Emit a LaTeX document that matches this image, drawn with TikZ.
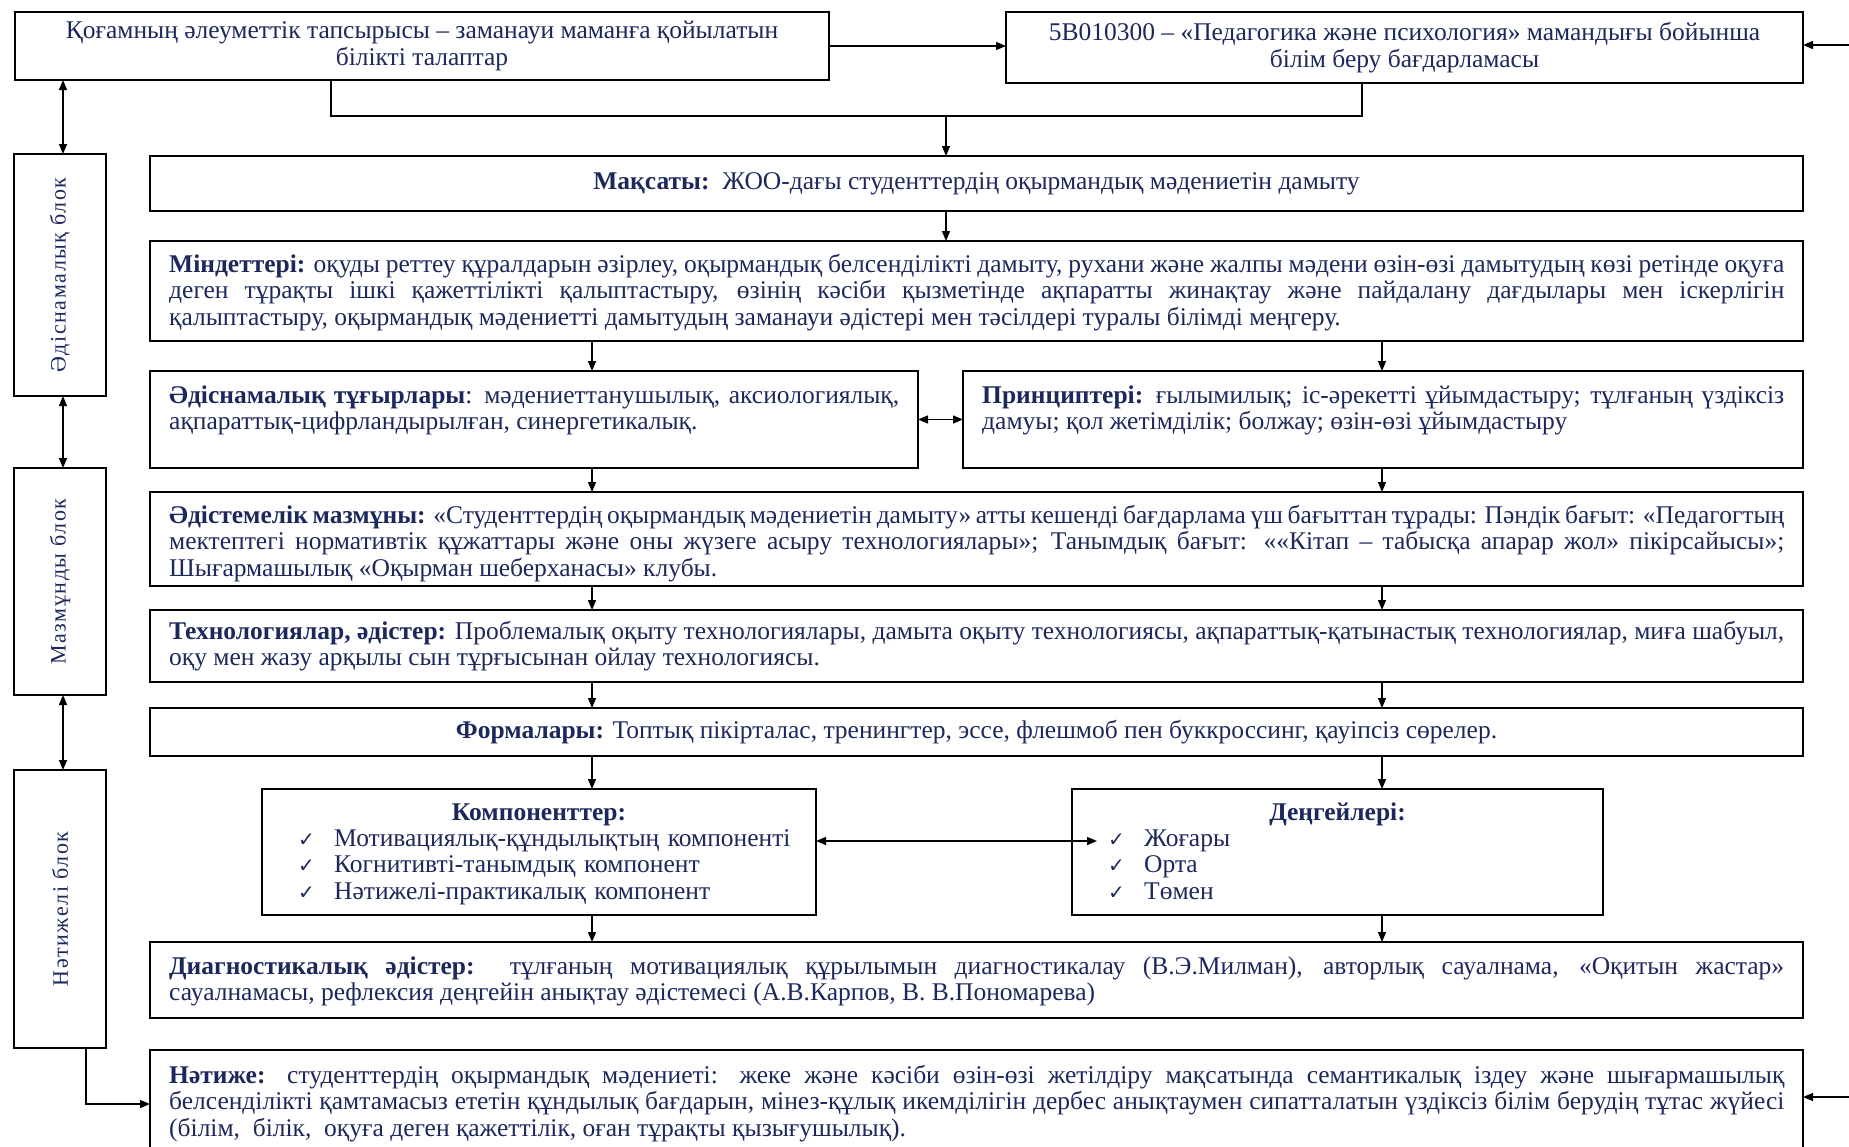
\documentclass[tikz,border=0pt]{standalone}
\usepackage{fontspec}
\usepackage{xcolor}
\setmainfont{Liberation Serif}
\newfontfamily\tickfont{DejaVu Sans}
\newfontfamily\blockfont[LetterSpace=7]{Liberation Serif}
\usetikzlibrary{arrows.meta}
\definecolor{inkblue}{RGB}{28,40,92}
\newcommand\bodyfont{\fontsize{25.5}{26.5}\selectfont}
\newcommand\tick{\makebox[36pt][l]{\tickfont\fontsize{20}{20}\selectfont ✓}}

\begin{document}
\begin{tikzpicture}[x=1pt, y=-1pt,
    box/.style={draw, line width=1.3pt, anchor=north west, inner sep=0pt, outer sep=0pt},
    txt/.style={anchor=base west, inner sep=0pt, text=inkblue, font=\bodyfont, align=justify},
    ctxt/.style={inner sep=0pt, text=inkblue, font=\bodyfont, align=center},
    blocktxt/.style={rotate=90, inner sep=0pt, text=inkblue, font=\blockfont\fontsize{22}{22}\selectfont},
    lnk/.style={line width=1.3pt},
    arr/.style={line width=1.3pt, -{Triangle[length=10pt,width=8pt]}},
    dbl/.style={line width=1.3pt, {Triangle[length=10pt,width=8pt]}-{Triangle[length=10pt,width=8pt]}}]
    \useasboundingbox (0,0) rectangle (1849,1146);

    % Top row
    \node[box, minimum width=814pt, minimum height=68pt] (social) at (15,12) {};
    \node[ctxt] (social-t) at (social.center) {Қоғамның әлеуметтік тапсырысы – заманауи маманға қойылатын\\ білікті талаптар};
    \node[box, minimum width=797pt, minimum height=71pt] (prog) at (1006,12) {};
    \node[ctxt] (prog-t) at (prog.center) {5В010300 – «Педагогика және психология» мамандығы бойынша\\ білім беру бағдарламасы};

    % Left blocks
    \node[box, minimum width=92pt, minimum height=242pt] (blk1) at (14,154) {};
    \node[box, minimum width=92pt, minimum height=227pt] (blk2) at (14,468) {};
    \node[box, minimum width=92pt, minimum height=278pt] (blk3) at (14,770) {};
    \node[blocktxt] (blk1-t) at (blk1.center) {Әдіснамалық блок};
    \node[blocktxt] (blk2-t) at (blk2.center) {Мазмұнды блок};
    \node[blocktxt] (blk3-t) at (blk3.center) {Нәтижелі блок};

    % Main column
    \node[box, minimum width=1653pt, minimum height=55pt] (aim) at (150,156) {};
    \node[ctxt] (aim-t) at (aim.center) {\textbf{Мақсаты:}\ \ ЖОО-дағы студенттердің оқырмандық мәдениетін дамыту};

    \node[box, minimum width=1653pt, minimum height=100pt] (tasks) at (150,241) {};
    \node[txt, text width=1615pt] (tasks-t) at ([shift={(19,31)}]tasks.north west) {\textbf{Міндеттері:} оқуды реттеу құралдарын әзірлеу, оқырмандық белсенділікті дамыту, рухани және жалпы мәдени өзін-өзі дамытудың көзі ретінде оқуға \linebreak деген тұрақты ішкі қажеттілікті қалыптастыру, өзінің кәсіби қызметінде ақпаратты жинақтау және пайдалану дағдылары мен іскерлігін \linebreak қалыптастыру, оқырмандық мәдениетті дамытудың заманауи әдістері мен тәсілдері туралы білімді меңгеру.};

    \node[box, minimum width=768pt, minimum height=97pt] (approach) at (150,371) {};
    \node[txt, text width=730pt] (approach-t) at ([shift={(19,32)}]approach.north west) {\textbf{Әдіснамалық тұғырлары}: мәдениеттанушылық, аксиологиялық, \linebreak ақпараттық-цифрландырылған, синергетикалық.};

    \node[box, minimum width=840pt, minimum height=97pt] (princ) at (963,371) {};
    \node[txt, text width=802pt] (princ-t) at ([shift={(19,32)}]princ.north west) {\textbf{Принциптері:} ғылымилық; іс-әрекетті ұйымдастыру; тұлғаның үздіксіз \linebreak дамуы; қол жетімділік; болжау; өзін-өзі ұйымдастыру};

    \node[box, minimum width=1653pt, minimum height=94pt] (content) at (150,492) {};
    \node[txt, text width=1615pt] (content-t) at ([shift={(19,31)}]content.north west) {\textbf{Әдістемелік мазмұны:} «Студенттердің оқырмандық мәдениетін дамыту» атты кешенді бағдарлама үш бағыттан тұрады: Пәндік бағыт: «Педагогтың \linebreak мектептегі нормативтік құжаттары және оны жүзеге асыру технологиялары»; Танымдық бағыт: ««Кітап – табысқа апарар жол» пікірсайысы»; \linebreak Шығармашылық «Оқырман шеберханасы» клубы.};

    \node[box, minimum width=1653pt, minimum height=72pt] (tech) at (150,610) {};
    \node[txt, text width=1615pt] (tech-t) at ([shift={(19,29)}]tech.north west) {\textbf{Технологиялар, әдістер:} Проблемалық оқыту технологиялары, дамыта оқыту технологиясы, ақпараттық-қатынастық технологиялар, миға шабуыл, \linebreak оқу мен жазу арқылы сын тұрғысынан ойлау технологиясы.};

    \node[box, minimum width=1653pt, minimum height=48pt] (forms) at (150,708) {};
    \node[ctxt] (forms-t) at (forms.center) {\textbf{Формалары:} Топтық пікірталас, тренингтер, эссе, флешмоб пен буккроссинг, қауіпсіз сөрелер.};

    % Components and levels
    \node[box, minimum width=554pt, minimum height=126pt] (comp) at (262,789) {};
    \node[ctxt, anchor=base] (comp-t) at ([shift={(0,31)}]comp.north) {\textbf{Компоненттер:}};
    \node[txt, align=left, text width=500pt] (comp-l) at ([shift={(36,57)}]comp.north west) {\tick Мотивациялық-құндылықтың компоненті\\ \tick Когнитивті-танымдық компонент\\ \tick Нәтижелі-практикалық компонент};

    \node[box, minimum width=531pt, minimum height=126pt] (lvl) at (1072,789) {};
    \node[ctxt, anchor=base] (lvl-t) at ([shift={(0,31)}]lvl.north) {\textbf{Деңгейлері:}};
    \node[txt, align=left, text width=300pt] (lvl-l) at ([shift={(36,57)}]lvl.north west) {\tick Жоғары\\ \tick Орта\\ \tick Төмен};

    \node[box, minimum width=1653pt, minimum height=76pt] (diag) at (150,942) {};
    \node[txt, text width=1615pt] (diag-t) at ([shift={(19,32)}]diag.north west) {\textbf{Диагностикалық әдістер:}\ \ тұлғаның мотивациялық құрылымын диагностикалау (В.Э.Милман), авторлық сауалнама, «Оқитын жастар» \linebreak сауалнамасы, рефлексия деңгейін анықтау әдістемесі (А.В.Карпов, В. В.Пономарева)};

    \node[box, minimum width=1653pt, minimum height=120pt] (result) at (150,1050) {};
    \node[txt, text width=1615pt] (result-t) at ([shift={(19,33)}]result.north west) {\textbf{Нәтиже:} студенттердің оқырмандық мәдениеті: жеке және кәсіби өзін-өзі жетілдіру мақсатында семантикалық іздеу және шығармашылық \linebreak белсенділікті қамтамасыз ететін құндылық бағдарын, мінез-құлық икемділігін дербес анықтаумен сипатталатын үздіксіз білім берудің тұтас жүйесі \linebreak (білім,\ \ білік,\ \ оқуға деген қажеттілік, оған тұрақты қызығушылық).};

    % Helper points
    \coordinate (lcol) at (63,0);
    \coordinate (colL) at (592,0);
    \coordinate (colR) at (1382,0);
    \coordinate (jl) at (331,116);
    \coordinate (jr) at (1362,116);
    \coordinate (join) at (946,116);
    \coordinate (inR1) at (1849,45);
    \coordinate (inR2) at (1849,1097);
    \coordinate (rdrop) at (86,1104);
    \coordinate (lvlin) at (1097,841);

    % Connectors
    \draw[arr] (social) -- (social -| prog.west);
    \draw[arr] (inR1) -- (inR1 -| prog.east);
    \draw[lnk] (social.south -| jl) -- (jl) -- (jr) -- (prog.south -| jr);
    \draw[arr] (join) -- (aim.north -| join);
    \draw[arr] (aim.south -| join) -- (tasks.north -| join);
    \foreach \from/\to/\col in {tasks/approach/colL, tasks/princ/colR,
        approach/content/colL, princ/content/colR, content/tech/colL, content/tech/colR,
        tech/forms/colL, tech/forms/colR, forms/comp/colL, forms/lvl/colR,
        comp/diag/colL, lvl/diag/colR}
      \draw[arr] (\from.south -| \col) -- (\to.north -| \col);
    \draw[dbl] (approach) -- (princ);
    \draw[dbl] (comp.east |- lvlin) -- (lvlin);
    \draw[dbl] (social.south -| lcol) -- (blk1.north -| lcol);
    \draw[dbl] (blk1.south -| lcol) -- (blk2.north -| lcol);
    \draw[dbl] (blk2.south -| lcol) -- (blk3.north -| lcol);
    \draw[arr] (blk3.south -| rdrop) -- (rdrop) -- (rdrop -| result.west);
    \draw[arr] (inR2) -- (inR2 -| result.east);
\end{tikzpicture}
\end{document}
